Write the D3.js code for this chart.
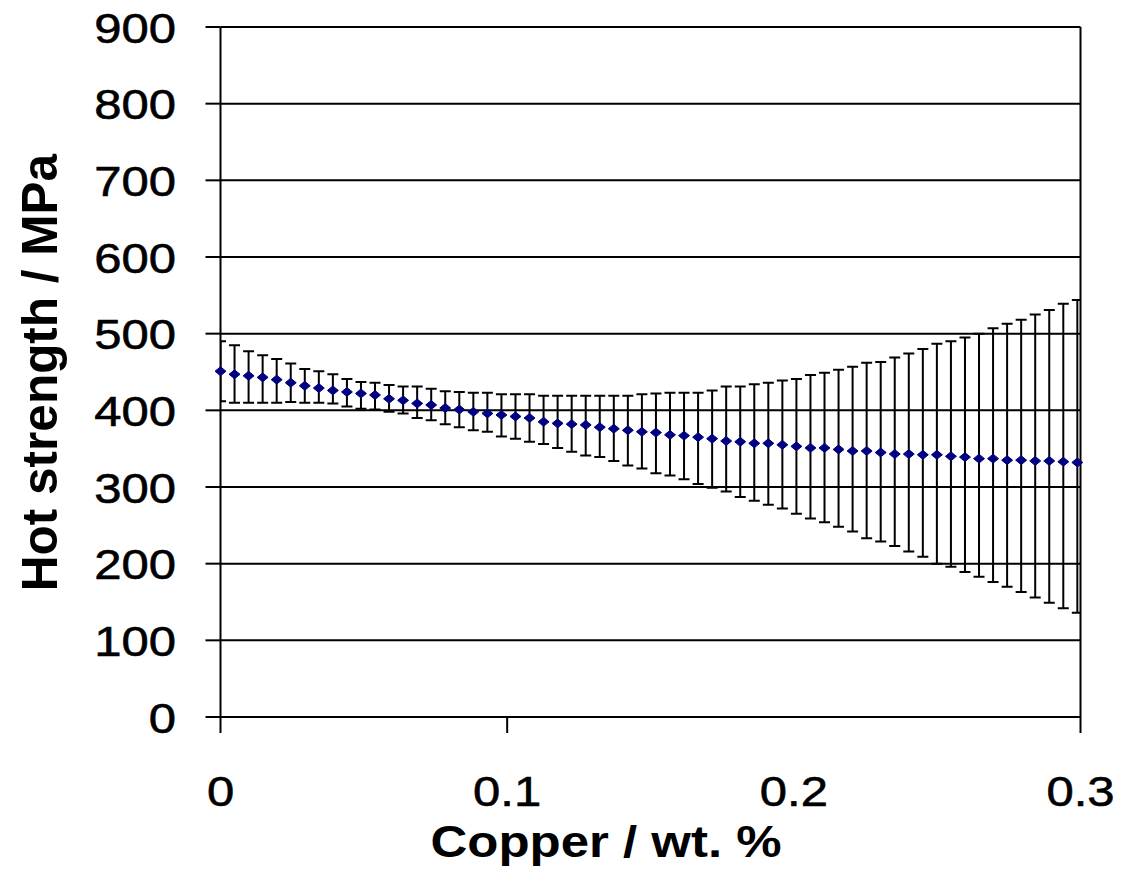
<!DOCTYPE html>
<html>
<head>
<meta charset="utf-8">
<script src="https://cdn.jsdelivr.net/npm/d3@7"></script>
<style>
  html, body { margin: 0; padding: 0; background: #fff; }
  svg { display: block; }
  text { font-family: "Liberation Sans", Arial, sans-serif; fill: #000; }
</style>
</head>
<body>
<svg id="chart" width="1133" height="893"></svg>
<script>
// Copper content (wt. %) of each predicted point
const copper = [
  0, 0.0049, 0.0098, 0.0147, 0.0196, 0.0245, 0.0294, 0.0343, 0.0392, 0.0441,
  0.049, 0.0539, 0.0588, 0.0637, 0.0686, 0.0735, 0.0784, 0.0833, 0.0882, 0.0931,
  0.098, 0.1029, 0.1078, 0.1127, 0.1176, 0.1225, 0.1274, 0.1323, 0.1372, 0.1421,
  0.147, 0.1519, 0.1568, 0.1617, 0.1666, 0.1715, 0.1764, 0.1813, 0.1862, 0.1911,
  0.196, 0.2009, 0.2058, 0.2107, 0.2156, 0.2205, 0.2254, 0.2303, 0.2352, 0.2401,
  0.245, 0.2499, 0.2548, 0.2597, 0.2646, 0.2695, 0.2744, 0.2793, 0.2842, 0.2891,
  0.294, 0.2989
];
// Predicted hot strength (MPa)
const strength = [
  451, 447, 445, 443, 440, 436, 432, 429, 426, 424,
  422, 420, 415, 413, 409, 407, 403, 401, 398, 396,
  394, 392, 390, 385, 383, 382, 381, 378, 376, 374,
  372, 371, 368, 367, 365, 363, 360, 359, 357, 357,
  355, 353, 351, 351, 349, 347, 347, 345, 343, 343,
  342, 342, 340, 339, 337, 337, 335, 335, 334, 334,
  333, 332
];
// Upper limit of the error bar (MPa)
const upperBound = [
  490, 485, 477, 472, 467, 461, 454, 451, 447, 441,
  437, 436, 433, 431, 431, 428, 425, 424, 423, 423,
  421, 421, 421, 419, 419, 419, 419, 419, 419, 419,
  421, 422, 423, 423, 423, 426, 431, 431, 434, 436,
  439, 441, 446, 449, 453, 457, 462, 463, 469, 474,
  480, 487, 490, 495, 500, 507, 513, 518, 525, 531,
  539, 544
];
// Lower limit of the error bar (MPa)
const lowerBound = [
  412, 410, 410, 410, 410, 411, 410, 410, 409, 405,
  402, 401, 398, 396, 390, 387, 382, 378, 374, 372,
  366, 363, 359, 356, 351, 346, 341, 339, 334, 328,
  324, 318, 315, 310, 304, 299, 294, 287, 282, 277,
  272, 265, 259, 254, 248, 242, 233, 229, 223, 216,
  209, 200, 196, 189, 183, 176, 170, 163, 156, 149,
  142, 136
];
const yTicks = [0, 100, 200, 300, 400, 500, 600, 700, 800, 900];
const xTickLabels = [0, 0.1, 0.2, 0.3];
const xTickMarks = [0, 0.1, 0.3];

const svg = d3.select("#chart");
const plotLeft = 220.5, plotRight = 1080.5, plotTop = 27, plotBottom = 717;
const lineW = 2;

const x = d3.scaleLinear().domain([0, 0.3]).range([plotLeft, plotRight]);
const y = d3.scaleLinear().domain([0, 900]).range([plotBottom, plotTop]);

const data = copper.map((c, i) => ({ c, v: strength[i], hi: upperBound[i], lo: lowerBound[i] }));

// Horizontal gridlines
svg.append("g").selectAll("line").data(yTicks).join("line")
  .attr("x1", plotLeft).attr("x2", plotRight)
  .attr("y1", d => y(d)).attr("y2", d => y(d))
  .attr("stroke", "#000").attr("stroke-width", lineW);

// Plot frame: left axis and right border
svg.append("line").attr("x1", plotLeft).attr("x2", plotLeft).attr("y1", plotTop).attr("y2", plotBottom)
  .attr("stroke", "#000").attr("stroke-width", lineW);
svg.append("line").attr("x1", plotRight).attr("x2", plotRight).attr("y1", plotTop).attr("y2", plotBottom)
  .attr("stroke", "#000").attr("stroke-width", lineW);

// Y axis tick marks and labels
const yAxis = svg.append("g");
yAxis.selectAll("line").data(yTicks).join("line")
  .attr("x1", plotLeft - 15).attr("x2", plotLeft)
  .attr("y1", d => y(d)).attr("y2", d => y(d))
  .attr("stroke", "#000").attr("stroke-width", lineW);
yAxis.selectAll("text").data(yTicks).join("text")
  .attr("transform", d => `translate(176,${y(d) + 15.5}) scale(1.14,1)`)
  .attr("text-anchor", "end")
  .attr("font-size", 43)
  .attr("stroke", "#000").attr("stroke-width", 0.6)
  .text(d => d);

// X axis tick marks and labels
const xAxis = svg.append("g");
xAxis.selectAll("line").data(xTickMarks).join("line")
  .attr("x1", d => x(d)).attr("x2", d => x(d))
  .attr("y1", plotBottom).attr("y2", plotBottom + 16)
  .attr("stroke", "#000").attr("stroke-width", lineW);
xAxis.selectAll("text").data(xTickLabels).join("text")
  .attr("transform", d => `translate(${x(d)},806) scale(1.14,1)`)
  .attr("text-anchor", "middle")
  .attr("font-size", 43)
  .attr("stroke", "#000").attr("stroke-width", 0.6)
  .text(d => d);

// Axis titles
svg.append("text")
  .attr("transform", "translate(606,857) scale(1.14,1)")
  .attr("text-anchor", "middle")
  .attr("font-size", 44.7)
  .attr("font-weight", "bold")
  .text("Copper / wt. %");
svg.append("text")
  .attr("transform", "translate(57,372.5) rotate(-90)")
  .attr("text-anchor", "middle")
  .attr("font-size", 49.5)
  .attr("font-weight", "bold")
  .text("Hot strength / MPa");

// Error bars, clipped to the plot area
svg.append("clipPath").attr("id", "plot-clip")
  .append("rect").attr("x", plotLeft).attr("y", 0).attr("width", plotRight - plotLeft).attr("height", 893);

const bars = svg.append("g").attr("clip-path", "url(#plot-clip)")
  .attr("stroke", "#000").attr("stroke-width", lineW);
const capHalf = 5.5;
bars.selectAll("path").data(data).join("path")
  .attr("fill", "none")
  .attr("d", d => {
    const cx = x(d.c), yh = y(d.hi), yl = y(d.lo);
    return `M${cx},${yh}V${yl}M${cx - capHalf},${yh}H${cx + capHalf}M${cx - capHalf},${yl}H${cx + capHalf}`;
  });

// Predicted points (small diamonds)
const diamond = {
  draw(ctx, size) {
    const w = Math.sqrt(size / 2);
    ctx.moveTo(0, -w * 0.82);
    ctx.lineTo(w, 0);
    ctx.lineTo(0, w * 0.82);
    ctx.lineTo(-w, 0);
    ctx.closePath();
  }
};
svg.append("g").selectAll("path").data(data).join("path")
  .attr("transform", d => `translate(${x(d.c)},${y(d.v)})`)
  .attr("d", d3.symbol(diamond, 60))
  .attr("fill", "#000080")
  .attr("stroke", "#000080").attr("stroke-width", 1);
</script>
</body>
</html>
